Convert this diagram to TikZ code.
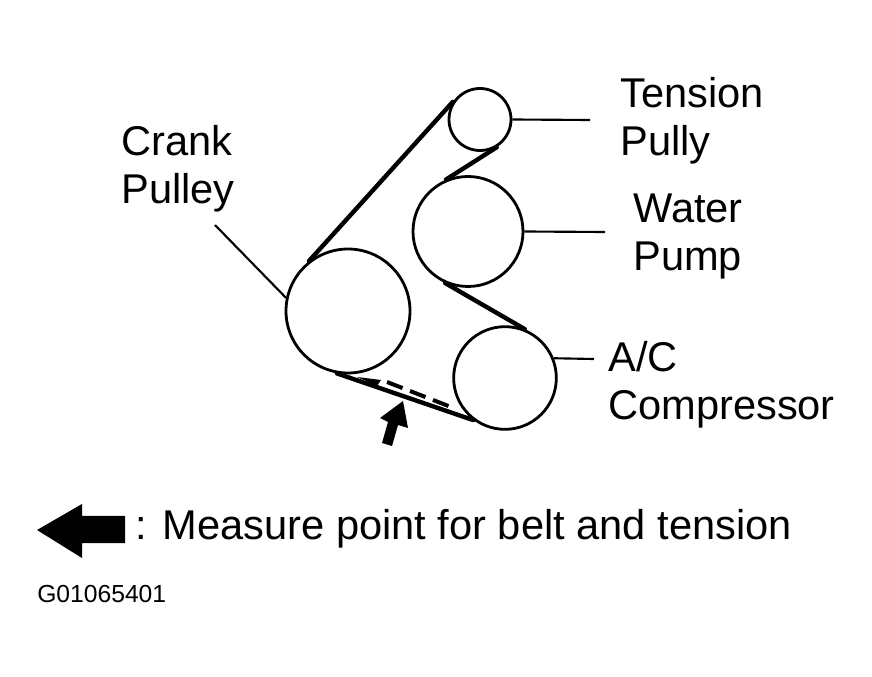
\documentclass[tikz,border=0pt]{standalone}
\usepackage{fontspec}
\setmainfont{Liberation Sans}
\tikzset{
	pulley/.style={draw, circle, inner sep=0pt, line width=2.1pt},
	belt/.style={line width=3.3pt, line cap=round},
	leader/.style={line width=1.6pt},
	partlabel/.style={align=left, inner sep=0pt, anchor=west, font=\fontsize{31.2}{36}\selectfont}
}

\begin{document}
\begin{tikzpicture}[x=0.75pt,y=-0.75pt]
		\useasboundingbox (0,0) rectangle (872,677);

		% Draw the four pulleys
		\node[pulley, minimum size=46.5pt] (tension) at (480,119.5) {};
		\node[pulley, minimum size=82.5pt] (water) at (468,231.5) {};
		\node[pulley, minimum size=93pt] (crank) at (348,311) {};
		\node[pulley, minimum size=77pt] (compressor) at (505,378) {};

		% Draw the belt from pulley to pulley
		\draw[belt] (crank.128) -- (tension.147);
		\draw[belt] (tension.-59) -- (water.113);
		\draw[belt] (water.-114) -- (compressor.68);
		\draw[belt] (crank.-100) -- (compressor.-127);

		% Draw the dashed belt position with its small tip
		\coordinate (dashstart) at (387,382);
		\coordinate (dashend) at (451,407);
		\draw[line width=3pt, dash pattern=on 12.5pt off 6pt] (dashstart) -- (dashend);
		\fill (357,377) -- (381,380) -- (377,386) -- cycle;

		% Draw the labels
		\node[partlabel] (tensionlabel) at (620,121) {Tension\\Pully};
		\node[partlabel] (waterlabel) at (633,237) {Water\\Pump};
		\node[partlabel] (cranklabel) at (121,169) {Crank\\Pulley};
		\node[partlabel] (compressorlabel) at (608,385) {A/C\\Compressor};

		% Draw the leader lines
		\coordinate (tensionend) at (590,120);
		\coordinate (waterend) at (605,232);
		\coordinate (crankend) at (215,225);
		\coordinate (compressorend) at (594,359);
		\draw[leader] (tension.east) -- (tensionend);
		\draw[leader] (water.east) -- (waterend);
		\draw[leader] (crank.168) -- (crankend);
		\draw[leader] (compressor.22) -- (compressorend);

		% Draw the measure point arrow
		\fill (403,401) -- (408,428) -- (398,425) -- (392,446) -- (382,443) -- (388,422) -- (380,418) -- cycle;

		% Draw the legend
		\fill (37,530) -- (82,504) -- (82,516) -- (125,516) -- (125,543) -- (82,543) -- (82,558) -- cycle;
		\node[partlabel] (legend) at (135.5,529) {: Measure point for belt and tension};
		\node[inner sep=0pt, anchor=west, font=\fontsize{18.5}{22}\selectfont] (figcode) at (37,594) {G01065401};
	\end{tikzpicture}
\end{document}
